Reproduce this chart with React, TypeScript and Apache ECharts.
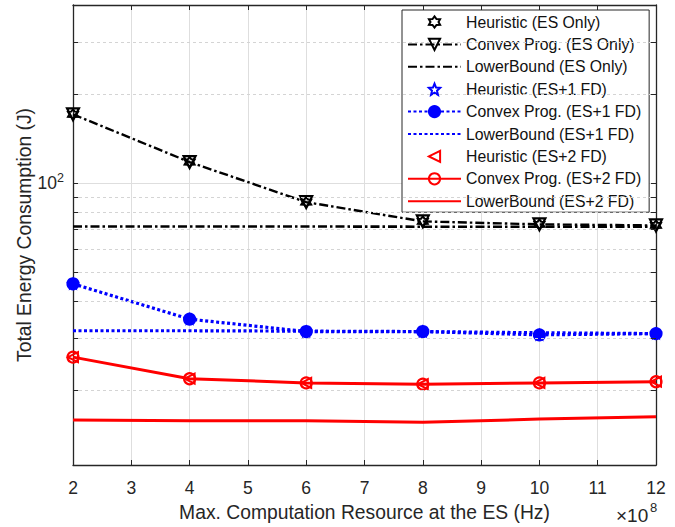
import React, { useEffect, useRef } from 'react';
import * as echarts from 'echarts';

// ---- data ----
const xValues = [2, 4, 6, 8, 10, 12];
const heuristicESOnly = [171, 118, 86.4, 74.4, 72.7, 72.1];
const convexESOnly = [171, 118, 86.4, 74.4, 72.7, 72.1];
const lowerESOnly = [71.5, 71.5, 71.5, 71.4, 71.4, 71.4];
const heuristicFD1 = [45.8, 34.8, 31.6, 31.6, 30.8, 31.1];
const convexFD1 = [45.8, 34.8, 31.6, 31.6, 30.8, 31.1];
const lowerFD1 = [31.8, 31.8, 31.7, 31.6, 31.3, 31.1];
const heuristicFD2 = [25.9, 21.9, 21.2, 21.0, 21.2, 21.4];
const convexFD2 = [25.9, 21.9, 21.2, 21.0, 21.2, 21.4];
const lowerFD2 = [15.9, 15.8, 15.8, 15.6, 16.0, 16.3];

const xMin = 2;
const xMax = 12;
const yMin = 11.2;
const yMax = 400;
const minorYTicks = [20, 30, 40, 50, 60, 70, 80, 90, 200, 300];

const legendNames = [
  'Heuristic (ES Only)',
  'Convex Prog. (ES Only)',
  'LowerBound (ES Only)',
  'Heuristic (ES+1 FD)',
  'Convex Prog. (ES+1 FD)',
  'LowerBound (ES+1 FD)',
  'Heuristic (ES+2 FD)',
  'Convex Prog. (ES+2 FD)',
  'LowerBound (ES+2 FD)',
];
const lineOnlyLegend = new Set([legendNames[2], legendNames[5], legendNames[8]]);

function starPath(n: number, inner: number): string {
  const pts: string[] = [];
  for (let i = 0; i < 2 * n; i++) {
    const r = i % 2 === 0 ? 10 : 10 * inner;
    const a = -Math.PI / 2 + (i * Math.PI) / n;
    pts.push(`${(10 + r * Math.cos(a)).toFixed(2)},${(10 + r * Math.sin(a)).toFixed(2)}`);
  }
  return 'path://M' + pts.join('L') + 'Z';
}

const HEXAGRAM = starPath(6, 0.62);
const PENTAGRAM = starPath(5, 0.45);
const TRI_DOWN = 'path://M0,0L10,0L5,8.66Z';
const TRI_LEFT = 'path://M0,5L8.66,0L8.66,10Z';

const FONT = "'Liberation Sans', Arial, Helvetica, sans-serif";
const AXIS_COLOR = '#262626';

const toPts = (vals: number[]) => xValues.map((x, i) => [x, vals[i]]);

export default function App() {
  const ref = useRef<HTMLDivElement>(null);

  useEffect(() => {
    document.body.style.margin = '0';
    const chart = echarts.init(ref.current!, null, { renderer: 'svg' });

    const dashDot = [9, 3, 2.5, 3];
    const dotted = [3, 2.5];

    const markerOnly = (name: string, vals: number[], symbol: string, size: number, color: string, filled: boolean) => ({
      name,
      type: 'line',
      data: toPts(vals),
      symbol,
      symbolSize: size,
      showSymbol: true,
      clip: false,
      lineStyle: { width: 0, opacity: 0, color },
      itemStyle: {
        color: filled ? color : 'rgba(255,255,255,0)',
        borderColor: color,
        borderWidth: 2,
      },
      z: 3,
    });

    const lineSeries = (
      name: string,
      vals: number[],
      color: string,
      width: number,
      type: any,
      symbol: string,
      size: number,
      filled: boolean
    ) => ({
      name,
      type: 'line',
      data: toPts(vals),
      symbol,
      symbolSize: size,
      showSymbol: symbol !== 'none',
      clip: false,
      lineStyle: { width, color, type, cap: 'butt' },
      itemStyle: {
        color: filled ? color : 'rgba(255,255,255,0)',
        borderColor: color,
        borderWidth: 2.2,
      },
      z: 4,
    });

    const minorGridLines = minorYTicks.map((v) => ({ yAxis: v }));
    const minorTickSegs: any[] = [];
    const tickLen = 0.09;
    minorYTicks.forEach((v) => {
      minorTickSegs.push([{ coord: [xMin, v] }, { coord: [xMin + tickLen, v] }]);
      minorTickSegs.push([{ coord: [xMax, v] }, { coord: [xMax - tickLen, v] }]);
    });

    const option: any = {
      animation: false,
      backgroundColor: '#ffffff',
      textStyle: { fontFamily: FONT },
      grid: { left: 73, right: 19, top: 5, bottom: 62, containLabel: false },
      xAxis: [
        {
          type: 'value',
          min: xMin,
          max: xMax,
          interval: 1,
          position: 'bottom',
          name: 'Max. Computation Resource at the ES (Hz)',
          nameLocation: 'middle',
          nameGap: 38,
          nameMoveOverlap: false,
          nameTextStyle: { fontSize: 19.3, color: AXIS_COLOR, fontFamily: FONT },
          axisLine: { show: true, onZero: false, lineStyle: { color: AXIS_COLOR, width: 1.3 } },
          axisTick: { show: true, inside: true, length: 5, lineStyle: { color: AXIS_COLOR, width: 1 } },
          axisLabel: { fontSize: 17.5, color: AXIS_COLOR, margin: 14, fontFamily: FONT },
          splitLine: { show: true, lineStyle: { color: '#dedede', width: 1 } },
        },
        {
          type: 'value',
          min: xMin,
          max: xMax,
          interval: 1,
          position: 'top',
          axisLine: { show: true, onZero: false, lineStyle: { color: AXIS_COLOR, width: 1.3 } },
          axisTick: { show: true, inside: true, length: 5, lineStyle: { color: AXIS_COLOR, width: 1 } },
          axisLabel: { show: false },
          splitLine: { show: false },
        },
      ],
      yAxis: [
        {
          type: 'log',
          logBase: 10,
          min: yMin,
          max: yMax,
          position: 'left',
          name: 'Total Energy Consumption (J)',
          nameLocation: 'middle',
          nameGap: 39,
          nameMoveOverlap: false,
          nameTextStyle: { fontSize: 19.3, color: AXIS_COLOR, fontFamily: FONT },
          axisLine: { show: true, onZero: false, lineStyle: { color: AXIS_COLOR, width: 1.3 } },
          axisTick: { show: true, inside: true, length: 5, lineStyle: { color: AXIS_COLOR, width: 1 } },
          axisLabel: {
            margin: 9,
            color: AXIS_COLOR,
            fontFamily: FONT,
            formatter: (v: number) => (Math.abs(v - 100) < 1e-6 ? '{b|10}{s|2}' : ''),
            rich: {
              b: { fontSize: 17.5, color: AXIS_COLOR, fontFamily: FONT },
              s: { fontSize: 12.5, color: AXIS_COLOR, fontFamily: FONT, padding: [0, 0, 10, 0] },
            },
          },
          splitLine: { show: true, lineStyle: { color: '#dedede', width: 1 } },
        },
        {
          type: 'log',
          logBase: 10,
          min: yMin,
          max: yMax,
          position: 'right',
          axisLine: { show: true, onZero: false, lineStyle: { color: AXIS_COLOR, width: 1.3 } },
          axisTick: { show: true, inside: true, length: 5, lineStyle: { color: AXIS_COLOR, width: 1 } },
          axisLabel: { show: false },
          splitLine: { show: false },
        },
      ],
      legend: {
        show: true,
        data: legendNames.map((n) =>
          lineOnlyLegend.has(n) ? { name: n, itemStyle: { opacity: 0 } } : { name: n }
        ),
        orient: 'vertical',
        left: 402,
        top: 10,
        itemWidth: 53,
        itemHeight: 14,
        itemGap: 6.4,
        padding: [4, 8, 3, 5],
        backgroundColor: '#ffffff',
        borderColor: AXIS_COLOR,
        borderWidth: 1,
        borderRadius: 0,
        selectedMode: false,
        textStyle: { fontSize: 15.8, lineHeight: 16, color: '#111111', fontFamily: FONT },
      },
      series: [
        {
          name: '__grid',
          type: 'line',
          data: [],
          silent: true,
          z: 1,
          markLine: {
            silent: true,
            symbol: 'none',
            label: { show: false },
            lineStyle: { color: '#d4d4d4', width: 1, type: [3, 3] },
            data: minorGridLines,
          },
        },
        {
          name: '__ticks',
          type: 'line',
          data: [],
          silent: true,
          z: 2,
          markLine: {
            silent: true,
            symbol: 'none',
            label: { show: false },
            lineStyle: { color: AXIS_COLOR, width: 1, type: 'solid' },
            data: minorTickSegs,
          },
        },
        markerOnly(legendNames[0], heuristicESOnly, HEXAGRAM, 10, '#000000', false),
        lineSeries(legendNames[1], convexESOnly, '#000000', 2.4, dashDot, TRI_DOWN, 12, false),
        lineSeries(legendNames[2], lowerESOnly, '#000000', 2.6, dashDot, 'none', 0, false),
        markerOnly(legendNames[3], heuristicFD1, PENTAGRAM, 9, '#0000ff', false),
        lineSeries(legendNames[4], convexFD1, '#0000ff', 3.2, dotted, 'circle', 11, true),
        lineSeries(legendNames[5], lowerFD1, '#0000ff', 3.2, dotted, 'none', 0, false),
        markerOnly(legendNames[6], heuristicFD2, TRI_LEFT, 10, '#ff0000', false),
        lineSeries(legendNames[7], convexFD2, '#ff0000', 3, 'solid', 'circle', 11, false),
        lineSeries(legendNames[8], lowerFD2, '#ff0000', 3, 'solid', 'none', 0, false),
      ],
      graphic: [
        {
          type: 'text',
          left: 616,
          top: 506,
          silent: true,
          style: { text: '×10', fontSize: 19, fill: AXIS_COLOR, fontFamily: FONT },
        },
        {
          type: 'text',
          left: 650,
          top: 501,
          silent: true,
          style: { text: '8', fontSize: 13, fill: AXIS_COLOR, fontFamily: FONT },
        },
      ],
    };

    chart.setOption(option);
    return () => chart.dispose();
  }, []);

  return <div ref={ref} style={{ width: 675, height: 527 }} />;
}
